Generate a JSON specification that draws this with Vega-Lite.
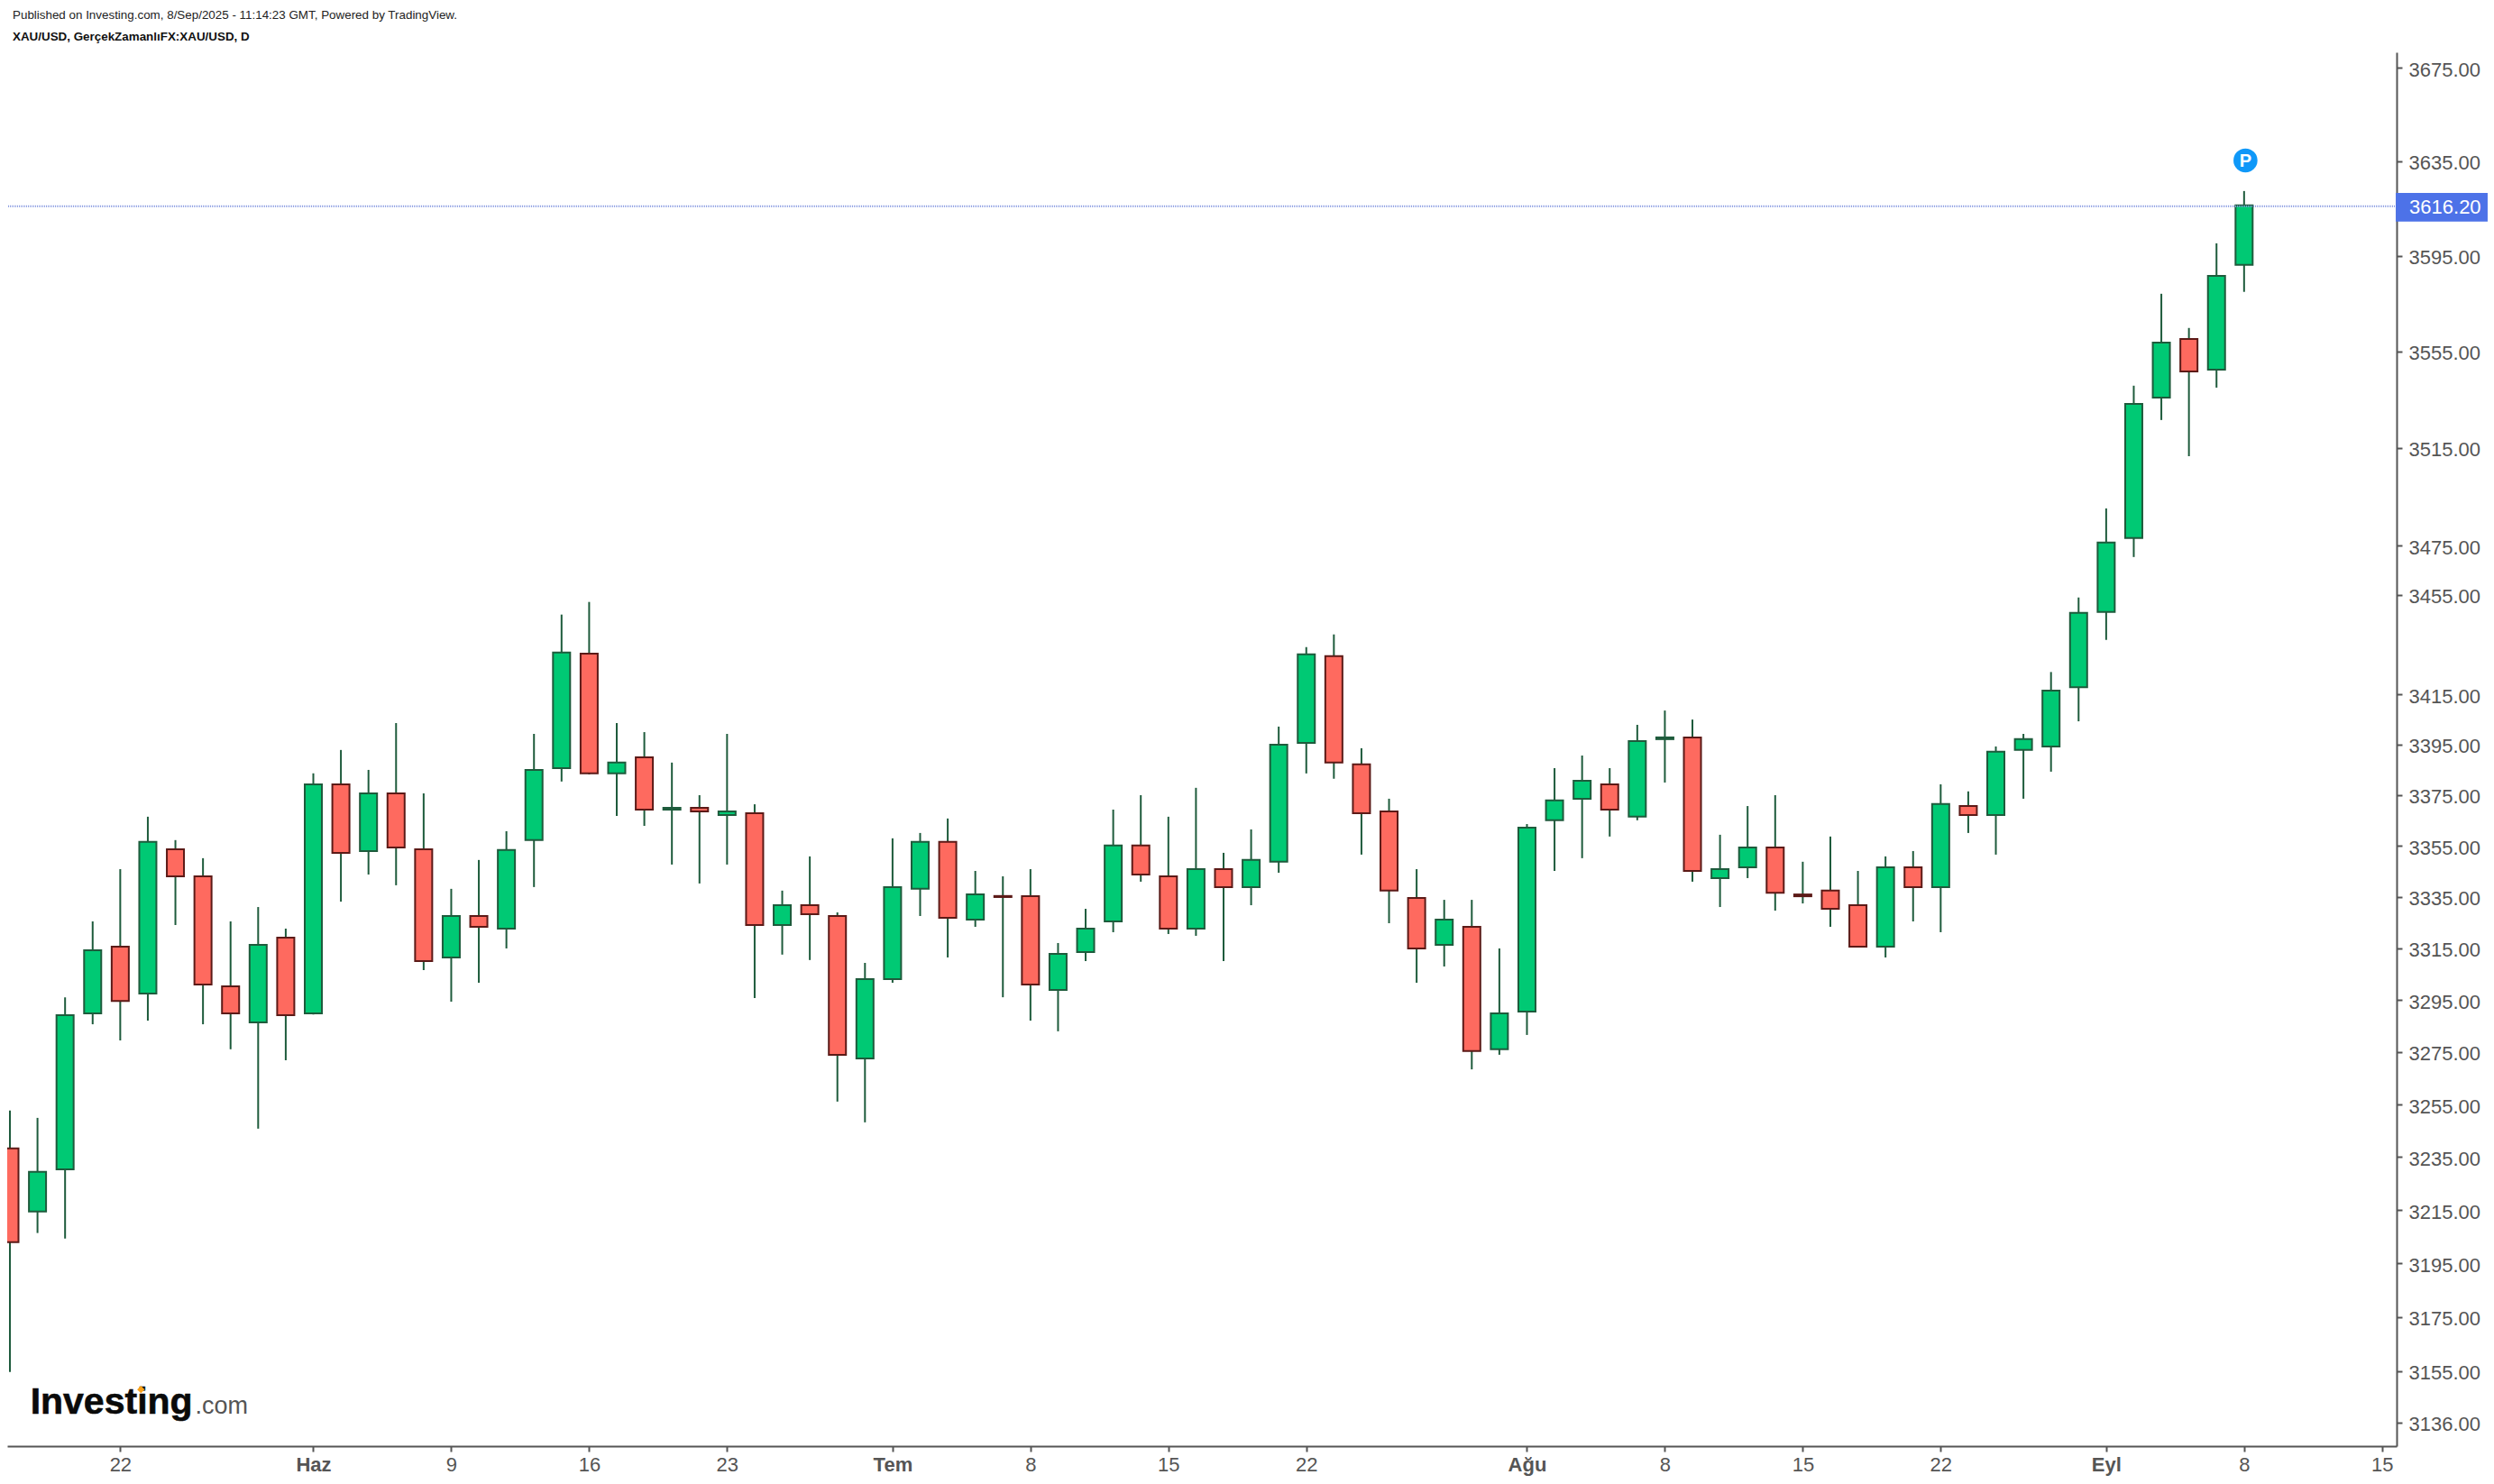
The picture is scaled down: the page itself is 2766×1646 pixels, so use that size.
{
  "$schema": "https://vega.github.io/schema/vega-lite/v6.json",
  "autosize": "none",
  "padding": {"left": 8, "top": 58, "right": 108, "bottom": 42},
  "width": 2650,
  "height": 1546,
  "background": "white",
  "title": {
    "text": "Published on Investing.com, 8/Sep/2025 - 11:14:23 GMT, Powered by TradingView.",
    "subtitle": "XAU/USD, GerçekZamanlıFX:XAU/USD, D",
    "anchor": "start",
    "frame": "group",
    "dx": 6,
    "offset": 11,
    "font": "Liberation Sans",
    "fontSize": 13.4,
    "fontWeight": "normal",
    "color": "#222222",
    "subtitleFont": "Liberation Sans",
    "subtitleFontSize": 13.4,
    "subtitleFontWeight": "bold",
    "subtitleColor": "#111111",
    "subtitlePadding": 10
  },
  "config": {"view": {"stroke": null}},
  "datasets": {
    "candles": [
      {"i":0,"date":"2025-05-16","open":3238.3,"high":3252.7,"low":3154.7,"close":3203.0},
      {"i":1,"date":"2025-05-19","open":3214.5,"high":3249.9,"low":3206.4,"close":3229.4},
      {"i":2,"date":"2025-05-20","open":3230.4,"high":3296.1,"low":3204.3,"close":3289.2},
      {"i":3,"date":"2025-05-21","open":3289.9,"high":3325.5,"low":3285.7,"close":3314.3},
      {"i":4,"date":"2025-05-22","open":3315.7,"high":3345.9,"low":3279.5,"close":3294.7},
      {"i":5,"date":"2025-05-23","open":3297.5,"high":3366.5,"low":3287.1,"close":3356.6},
      {"i":6,"date":"2025-05-26","open":3353.7,"high":3357.3,"low":3324.1,"close":3343.1},
      {"i":7,"date":"2025-05-27","open":3343.1,"high":3350.2,"low":3285.7,"close":3301.0},
      {"i":8,"date":"2025-05-28","open":3300.3,"high":3325.5,"low":3276.1,"close":3289.9},
      {"i":9,"date":"2025-05-29","open":3286.4,"high":3331.1,"low":3245.8,"close":3316.4},
      {"i":10,"date":"2025-05-30","open":3319.2,"high":3322.7,"low":3271.9,"close":3289.2},
      {"i":11,"date":"2025-06-02","open":3289.9,"high":3383.6,"low":3289.5,"close":3379.3},
      {"i":12,"date":"2025-06-03","open":3379.3,"high":3392.9,"low":3333.2,"close":3352.3},
      {"i":13,"date":"2025-06-04","open":3353.0,"high":3385.0,"low":3343.8,"close":3375.7},
      {"i":14,"date":"2025-06-05","open":3375.7,"high":3403.6,"low":3339.6,"close":3354.4},
      {"i":15,"date":"2025-06-06","open":3353.7,"high":3375.7,"low":3306.6,"close":3310.1},
      {"i":16,"date":"2025-06-09","open":3311.5,"high":3338.2,"low":3294.4,"close":3327.6},
      {"i":17,"date":"2025-06-10","open":3327.6,"high":3349.5,"low":3301.7,"close":3323.4},
      {"i":18,"date":"2025-06-11","open":3322.7,"high":3360.8,"low":3315.0,"close":3353.4},
      {"i":19,"date":"2025-06-12","open":3357.3,"high":3399.3,"low":3338.9,"close":3385.0},
      {"i":20,"date":"2025-06-13","open":3385.7,"high":3447.1,"low":3380.4,"close":3431.8},
      {"i":21,"date":"2025-06-16","open":3431.4,"high":3452.2,"low":3383.2,"close":3383.6},
      {"i":22,"date":"2025-06-17","open":3383.6,"high":3403.6,"low":3366.8,"close":3387.9},
      {"i":23,"date":"2025-06-18","open":3390.0,"high":3400.0,"low":3362.9,"close":3369.3},
      {"i":24,"date":"2025-06-19","open":3369.3,"high":3387.9,"low":3347.7,"close":3370.0},
      {"i":25,"date":"2025-06-20","open":3370.0,"high":3375.0,"low":3340.3,"close":3368.6},
      {"i":26,"date":"2025-06-23","open":3367.2,"high":3399.3,"low":3347.7,"close":3368.6},
      {"i":27,"date":"2025-06-24","open":3367.9,"high":3371.4,"low":3295.8,"close":3324.1},
      {"i":28,"date":"2025-06-25","open":3324.1,"high":3337.5,"low":3312.6,"close":3331.8},
      {"i":29,"date":"2025-06-26","open":3331.8,"high":3350.9,"low":3310.5,"close":3328.3},
      {"i":30,"date":"2025-06-27","open":3327.6,"high":3329.0,"low":3256.1,"close":3274.0},
      {"i":31,"date":"2025-06-30","open":3272.6,"high":3309.4,"low":3248.2,"close":3303.1},
      {"i":32,"date":"2025-07-01","open":3303.1,"high":3358.0,"low":3301.7,"close":3338.9},
      {"i":33,"date":"2025-07-02","open":3338.2,"high":3360.1,"low":3327.6,"close":3356.6},
      {"i":34,"date":"2025-07-03","open":3356.6,"high":3365.8,"low":3311.5,"close":3326.9},
      {"i":35,"date":"2025-07-04","open":3326.2,"high":3345.2,"low":3323.4,"close":3336.0},
      {"i":36,"date":"2025-07-07","open":3335.4,"high":3343.1,"low":3296.1,"close":3335.0},
      {"i":37,"date":"2025-07-08","open":3335.3,"high":3345.9,"low":3287.1,"close":3301.0},
      {"i":38,"date":"2025-07-09","open":3298.9,"high":3317.1,"low":3283.0,"close":3312.9},
      {"i":39,"date":"2025-07-10","open":3313.6,"high":3330.4,"low":3310.1,"close":3322.7},
      {"i":40,"date":"2025-07-11","open":3325.5,"high":3369.3,"low":3321.3,"close":3355.2},
      {"i":41,"date":"2025-07-14","open":3355.2,"high":3375.0,"low":3341.0,"close":3343.8},
      {"i":42,"date":"2025-07-15","open":3343.1,"high":3366.5,"low":3320.6,"close":3322.7},
      {"i":43,"date":"2025-07-16","open":3322.7,"high":3377.9,"low":3319.9,"close":3345.9},
      {"i":44,"date":"2025-07-17","open":3345.9,"high":3352.3,"low":3310.1,"close":3338.9},
      {"i":45,"date":"2025-07-18","open":3338.9,"high":3361.5,"low":3331.8,"close":3349.5},
      {"i":46,"date":"2025-07-21","open":3348.8,"high":3402.2,"low":3344.5,"close":3395.0},
      {"i":47,"date":"2025-07-22","open":3395.7,"high":3434.0,"low":3383.6,"close":3431.1},
      {"i":48,"date":"2025-07-23","open":3430.4,"high":3439.1,"low":3381.5,"close":3387.9},
      {"i":49,"date":"2025-07-24","open":3387.2,"high":3393.6,"low":3351.6,"close":3367.9},
      {"i":50,"date":"2025-07-25","open":3368.6,"high":3373.6,"low":3324.8,"close":3337.5},
      {"i":51,"date":"2025-07-28","open":3334.6,"high":3345.9,"low":3301.7,"close":3315.0},
      {"i":52,"date":"2025-07-29","open":3316.4,"high":3333.9,"low":3308.0,"close":3326.2},
      {"i":53,"date":"2025-07-30","open":3323.4,"high":3333.9,"low":3268.4,"close":3275.4},
      {"i":54,"date":"2025-07-31","open":3276.1,"high":3315.0,"low":3274.0,"close":3289.9},
      {"i":55,"date":"2025-08-01","open":3290.6,"high":3363.6,"low":3281.6,"close":3362.2},
      {"i":56,"date":"2025-08-04","open":3365.1,"high":3385.7,"low":3345.2,"close":3372.9},
      {"i":57,"date":"2025-08-05","open":3373.6,"high":3390.7,"low":3350.2,"close":3380.7},
      {"i":58,"date":"2025-08-06","open":3379.3,"high":3385.7,"low":3358.7,"close":3369.3},
      {"i":59,"date":"2025-08-07","open":3366.5,"high":3402.9,"low":3365.1,"close":3396.4},
      {"i":60,"date":"2025-08-08","open":3397.2,"high":3408.6,"low":3380.0,"close":3397.9},
      {"i":61,"date":"2025-08-11","open":3397.9,"high":3405.0,"low":3341.0,"close":3345.2},
      {"i":62,"date":"2025-08-12","open":3342.4,"high":3359.4,"low":3331.1,"close":3345.9},
      {"i":63,"date":"2025-08-13","open":3346.6,"high":3370.7,"low":3342.4,"close":3354.4},
      {"i":64,"date":"2025-08-14","open":3354.4,"high":3375.0,"low":3329.7,"close":3336.7},
      {"i":65,"date":"2025-08-15","open":3336.0,"high":3348.8,"low":3332.5,"close":3335.3},
      {"i":66,"date":"2025-08-18","open":3337.5,"high":3358.7,"low":3323.4,"close":3330.4},
      {"i":67,"date":"2025-08-19","open":3331.8,"high":3345.2,"low":3315.4,"close":3315.7},
      {"i":68,"date":"2025-08-20","open":3315.7,"high":3350.9,"low":3311.5,"close":3346.6},
      {"i":69,"date":"2025-08-21","open":3346.6,"high":3353.0,"low":3325.5,"close":3338.9},
      {"i":70,"date":"2025-08-22","open":3338.9,"high":3379.3,"low":3321.3,"close":3371.5},
      {"i":71,"date":"2025-08-25","open":3370.7,"high":3376.5,"low":3360.1,"close":3367.2},
      {"i":72,"date":"2025-08-26","open":3367.2,"high":3394.3,"low":3351.6,"close":3392.2},
      {"i":73,"date":"2025-08-27","open":3392.9,"high":3399.3,"low":3373.6,"close":3397.2},
      {"i":74,"date":"2025-08-28","open":3394.3,"high":3424.0,"low":3384.3,"close":3416.6},
      {"i":75,"date":"2025-08-29","open":3417.9,"high":3454.0,"low":3404.3,"close":3447.8},
      {"i":76,"date":"2025-09-01","open":3448.2,"high":3490.2,"low":3436.9,"close":3476.3},
      {"i":77,"date":"2025-09-02","open":3478.1,"high":3540.7,"low":3470.4,"close":3533.2},
      {"i":78,"date":"2025-09-03","open":3535.8,"high":3579.0,"low":3526.5,"close":3558.6},
      {"i":79,"date":"2025-09-04","open":3560.1,"high":3564.7,"low":3511.6,"close":3546.6},
      {"i":80,"date":"2025-09-05","open":3547.4,"high":3600.2,"low":3539.9,"close":3586.5},
      {"i":81,"date":"2025-09-08","open":3591.1,"high":3622.3,"low":3579.8,"close":3616.2}
    ]
  },
  "layer": [
    {
      "data": {"name": "candles"},
      "mark": {"type": "rule", "color": "#1e5b3c", "strokeWidth": 2},
      "encoding": {
        "x": {
          "field": "i",
          "type": "quantitative",
          "title": null,
          "scale": {"domain": [-0.098, 86.53], "nice": false, "zero": false, "padding": 0},
          "axis": {
            "orient": "bottom",
            "grid": false,
            "values": [4, 11, 16, 21, 26, 32, 37, 42, 47, 55, 60, 65, 70, 76, 81, 86],
            "labelExpr": "['22','Haz','9','16','23','Tem','8','15','22','Ağu','8','15','22','Eyl','8','15'][indexof([4,11,16,21,26,32,37,42,47,55,60,65,70,76,81,86],datum.value)]",
            "labelFontWeight": {"condition": {"test": "datum.value==11||datum.value==32||datum.value==55||datum.value==76", "value": "bold"}, "value": "normal"},
            "labelFont": "Liberation Sans",
            "labelFontSize": 22,
            "labelColor": "#555555",
            "labelPadding": 4,
            "labelOverlap": false,
            "labelFlush": false,
            "labelBound": false,
            "domainColor": "#555555",
            "domainWidth": 2,
            "tickColor": "#555555",
            "tickWidth": 2,
            "tickSize": 6
          }
        },
        "y": {
          "field": "low",
          "type": "quantitative",
          "title": null,
          "scale": {"type": "log", "domain": [3127.4, 3681.6], "nice": false, "zero": false},
          "axis": {
            "orient": "right",
            "grid": false,
            "values": [3675, 3635, 3595, 3555, 3515, 3475, 3455, 3415, 3395, 3375, 3355, 3335, 3315, 3295, 3275, 3255, 3235, 3215, 3195, 3175, 3155, 3136],
            "format": ".2f",
            "labelFont": "Liberation Sans",
            "labelFontSize": 22,
            "labelColor": "#555555",
            "labelPadding": 7,
            "labelOffset": 2,
            "labelOverlap": false,
            "labelBound": false,
            "domainColor": "#555555",
            "domainWidth": 2,
            "tickColor": "#555555",
            "tickWidth": 2,
            "tickSize": 6
          }
        },
        "y2": {"field": "high"}
      }
    },
    {
      "data": {"name": "candles"},
      "mark": {"type": "bar", "size": 19, "strokeWidth": 2, "clip": true},
      "encoding": {
        "x": {"field": "i", "type": "quantitative"},
        "y": {"field": "open", "type": "quantitative"},
        "y2": {"field": "close"},
        "fill": {"condition": {"test": "datum.close >= datum.open", "value": "#00c974"}, "value": "#fe6a5f"},
        "stroke": {"condition": {"test": "datum.close >= datum.open", "value": "#1e5b3c"}, "value": "#5c1a17"}
      }
    },
    {
      "data": {"values": [{"price": 3615.9}]},
      "mark": {"type": "rule", "color": "#8496e0", "strokeWidth": 2, "strokeDash": [1, 1]},
      "encoding": {"y": {"field": "price", "type": "quantitative"}}
    },
    {
      "data": {"values": [{"from": 86.5, "to": 89.83, "top": 3621.5, "bottom": 3609.4}]},
      "mark": {"type": "rect", "color": "#4d72e8"},
      "encoding": {
        "x": {"field": "from", "type": "quantitative"},
        "x2": {"field": "to"},
        "y": {"field": "top", "type": "quantitative"},
        "y2": {"field": "bottom"}
      }
    },
    {
      "data": {"values": [{"i": 86.99, "price": 3616.2, "label": "3616.20"}]},
      "mark": {"type": "text", "align": "left", "baseline": "middle", "dy": 2.5, "font": "Liberation Sans", "fontSize": 22, "color": "white"},
      "encoding": {
        "x": {"field": "i", "type": "quantitative"},
        "y": {"field": "price", "type": "quantitative"},
        "text": {"field": "label"}
      }
    },
    {
      "data": {"values": [{"i": 81.05, "price": 3635.3}]},
      "mark": {"type": "point", "shape": "circle", "filled": true, "size": 707, "opacity": 1, "color": "#0f98f8"},
      "encoding": {
        "x": {"field": "i", "type": "quantitative"},
        "y": {"field": "price", "type": "quantitative"}
      }
    },
    {
      "data": {"values": [{"i": 81.05, "price": 3635.3, "label": "P"}]},
      "mark": {"type": "text", "align": "center", "baseline": "middle", "dy": 1, "font": "Liberation Sans", "fontSize": 20, "fontWeight": "bold", "color": "white"},
      "encoding": {
        "x": {"field": "i", "type": "quantitative"},
        "y": {"field": "price", "type": "quantitative"},
        "text": {"field": "label"}
      }
    },
    {
      "data": {"values": [{"i": 0.74, "price": 3139.2, "label": "Investing"}]},
      "mark": {"type": "text", "align": "left", "baseline": "alphabetic", "font": "Liberation Sans", "fontSize": 41, "fontWeight": "bold", "color": "#0a0a0a", "stroke": "#0a0a0a", "strokeWidth": 0.6},
      "encoding": {
        "x": {"field": "i", "type": "quantitative"},
        "y": {"field": "price", "type": "quantitative"},
        "text": {"field": "label"}
      }
    },
    {
      "data": {"values": [{"i": 6.72, "price": 3139.2, "label": ".com"}]},
      "mark": {"type": "text", "align": "left", "baseline": "alphabetic", "font": "Liberation Sans", "fontSize": 27, "color": "#555555"},
      "encoding": {
        "x": {"field": "i", "type": "quantitative"},
        "y": {"field": "price", "type": "quantitative"},
        "text": {"field": "label"}
      }
    },
    {
      "data": {"values": [{"i": 4.75, "price": 3148.2}]},
      "mark": {"type": "point", "shape": "diamond", "filled": true, "size": 70, "opacity": 1, "color": "#f7a11a"},
      "encoding": {
        "x": {"field": "i", "type": "quantitative"},
        "y": {"field": "price", "type": "quantitative"}
      }
    }
  ]
}
